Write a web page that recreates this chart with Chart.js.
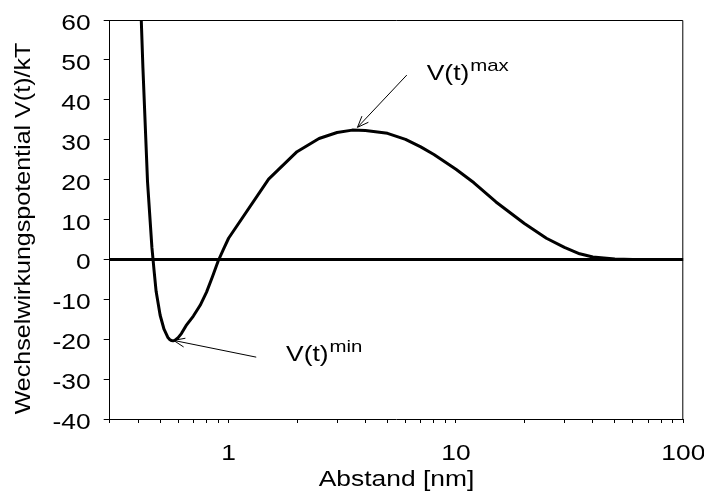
<!DOCTYPE html>
<html>
<head>
<meta charset="utf-8">
<script src="https://cdn.jsdelivr.net/npm/chart.js@4/dist/chart.umd.min.js"></script>
<style>
  html, body { margin: 0; padding: 0; background: #ffffff; }
  #wrap { width: 704px; height: 492px; }
</style>
</head>
<body>
<div id="wrap"><canvas id="c" width="704" height="492"></canvas></div>
<script>
// Interaction potential (DLVO-type) versus separation distance
const distance = [0.40, 0.42, 0.44, 0.46, 0.47, 0.48, 0.50, 0.52, 0.54, 0.55, 0.56, 0.57, 0.58, 0.60, 0.62, 0.65,
                  0.70, 0.75, 0.80, 0.85, 0.90, 0.95, 1.0, 1.5, 2.0, 2.5, 3.0, 3.5, 4, 5, 6, 7, 8, 10, 12, 15, 20, 25,
                  30, 35, 40, 50, 60, 100];
const potential = [83, 48, 19.5, 3, -2.7, -8.0, -14.0, -17.5, -19.5, -20.05, -20.34, -20.4, -20.29, -19.6, -18.6, -16.6,
                   -14.2, -11.5, -8.2, -4.3, -0.4, 2.6, 5.3, 20.1, 27.0, 30.3, 31.8, 32.4, 32.3, 31.6, 30.1, 28.2, 26.3,
                   22.6, 19.2, 14.4, 9.0, 5.3, 3.0, 1.4, 0.6, 0.1, 0, 0];

// Zero reference line
const zeroLineX = [0.3, 100];
const zeroLineY = [0, 0];

// Axis ticks and titles
const xTickValues = [0.3, 0.4, 0.5, 0.6, 0.7, 0.8, 0.9, 1, 2, 3, 4, 5, 6, 7, 8, 9, 10,
                     20, 30, 40, 50, 60, 70, 80, 90, 100];
const xTickLabels = ['1', '10', '100'];
const yTickValues = [-40, -30, -20, -10, 0, 10, 20, 30, 40, 50, 60];
const xTitle = 'Abstand [nm]';
const yTitle = 'Wechselwirkungspotential V(t)/kT';

// Callout labels: text, superscript, arrow tip and arrow tail (data units), text anchor
const callouts = [
  { text: 'V(t)', sup: 'max', tip: [3.69, 33.1], tail: [6.08, 46.2], at: [7.44, 45.0] },
  { text: 'V(t)', sup: 'min', tip: [0.573, -20.3], tail: [1.323, -24.5], at: [1.79, -25.5] }
];

const FONT = '"Liberation Sans", Arial, sans-serif';
const SIZE = 22;
const SUP_SIZE = 17;
const STRETCH = 1.2;   // text is set a little wide

function wideText(ctx, str, x, y, opts) {
  const o = Object.assign({ size: SIZE, align: 'left', rot: 0, stretch: STRETCH }, opts || {});
  ctx.save();
  ctx.translate(x, y);
  if (o.rot) ctx.rotate(o.rot);
  ctx.scale(o.stretch, 1);
  ctx.font = o.size + 'px ' + FONT;
  ctx.fillStyle = '#000';
  ctx.textAlign = o.align;
  ctx.textBaseline = 'alphabetic';
  ctx.fillText(str, 0, 0);
  const w = ctx.measureText(str).width * o.stretch;
  ctx.restore();
  return w;
}

const labelPlugin = {
  id: 'labels',
  afterDraw(chart) {
    const { ctx, chartArea: a, scales: { x, y } } = chart;
    ctx.save();

    // top and right frame lines
    ctx.strokeStyle = '#000';
    ctx.lineWidth = 1;
    ctx.beginPath();
    ctx.moveTo(a.left, a.top + 0.5);
    ctx.lineTo(a.right - 0.5, a.top + 0.5);
    ctx.lineTo(a.right - 0.5, a.bottom);
    ctx.stroke();

    // tick labels
    yTickValues.forEach(v => {
      wideText(ctx, String(v), a.left - 19, y.getPixelForValue(v) + 10, { align: 'right' });
    });
    xTickLabels.forEach(s => {
      wideText(ctx, s, x.getPixelForValue(Number(s)), a.bottom + 41, { align: 'center' });
    });

    // axis titles
    wideText(ctx, xTitle, (a.left + a.right) / 2, 486, { align: 'center' });
    wideText(ctx, yTitle, 30, (a.top + a.bottom) / 2 + 9, { align: 'center', rot: -Math.PI / 2, stretch: 1.14 });

    // callouts with open arrowheads
    callouts.forEach(c => {
      const tx = x.getPixelForValue(c.tip[0]), ty = y.getPixelForValue(c.tip[1]);
      const fx = x.getPixelForValue(c.tail[0]), fy = y.getPixelForValue(c.tail[1]);
      ctx.strokeStyle = '#000';
      ctx.lineWidth = 1;
      ctx.beginPath();
      ctx.moveTo(fx, fy);
      ctx.lineTo(tx, ty);
      ctx.stroke();
      const ang = Math.atan2(ty - fy, tx - fx);
      const len = 12, spread = 0.38;
      ctx.beginPath();
      ctx.moveTo(tx - len * Math.cos(ang - spread), ty - len * Math.sin(ang - spread));
      ctx.lineTo(tx, ty);
      ctx.lineTo(tx - len * Math.cos(ang + spread), ty - len * Math.sin(ang + spread));
      ctx.stroke();

      const lx = x.getPixelForValue(c.at[0]), ly = y.getPixelForValue(c.at[1]);
      const w = wideText(ctx, c.text, lx, ly);
      wideText(ctx, c.sup, lx + w + 1, ly - 9, { size: SUP_SIZE });
    });
    ctx.restore();
  }
};

new Chart(document.getElementById('c'), {
  type: 'line',
  data: {
    datasets: [
      {
        label: 'V(t)/kT',
        data: distance.map((d, i) => ({ x: d, y: potential[i] })),
        borderColor: '#000',
        borderWidth: 3,
        pointRadius: 0,
        tension: 0,
        borderJoinStyle: 'round',
        clip: 0
      },
      {
        label: 'zero',
        data: zeroLineX.map((d, i) => ({ x: d, y: zeroLineY[i] })),
        borderColor: '#000',
        borderWidth: 3,
        pointRadius: 0,
        clip: 0
      }
    ]
  },
  options: {
    responsive: false,
    animation: false,
    events: [],
    layout: { padding: { top: 20, right: 20.7, left: 0, bottom: 0 } },
    plugins: { legend: { display: false }, tooltip: { enabled: false } },
    scales: {
      x: {
        type: 'logarithmic',
        min: 0.3,
        max: 100,
        afterBuildTicks: s => { s.ticks = xTickValues.map(v => ({ value: v })); },
        afterFit: s => { s.height = 73; },
        ticks: { display: false, autoSkip: false, maxRotation: 0 },
        grid: { drawOnChartArea: false, drawTicks: true, tickLength: 4, color: '#000', tickColor: '#000' },
        border: { display: true, color: '#000', width: 1 },
        title: { display: false }
      },
      y: {
        min: -40,
        max: 60,
        afterBuildTicks: s => { s.ticks = yTickValues.map(v => ({ value: v })); },
        afterFit: s => { s.width = 109.7; },
        ticks: { display: false },
        grid: { drawOnChartArea: false, drawTicks: true, tickLength: 6, color: '#000', tickColor: '#000' },
        border: { display: true, color: '#000', width: 1 },
        title: { display: false }
      }
    }
  },
  plugins: [labelPlugin]
});
</script>
</body>
</html>
